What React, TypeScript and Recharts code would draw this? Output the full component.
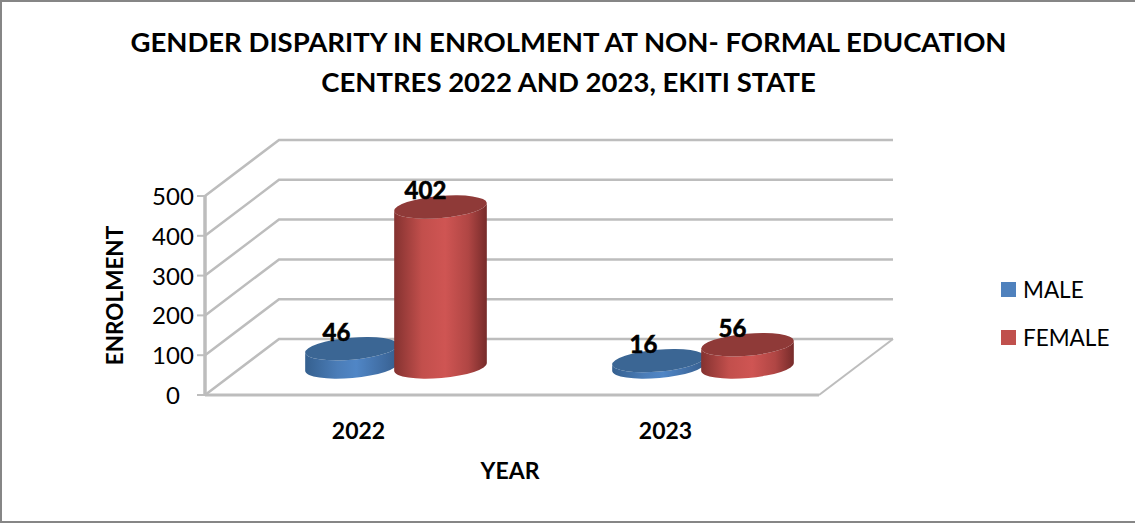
import React from 'react';
import { BarChart, Bar, XAxis, YAxis, CartesianGrid, Legend, LabelList } from 'recharts';

// values
const years = ['2022', '2023'];
const male = [46, 16];
const female = [402, 56];
const yTicks = [0, 100, 200, 300, 400, 500];
const titleLines = [
  'GENDER DISPARITY IN ENROLMENT AT NON- FORMAL EDUCATION',
  'CENTRES 2022 AND 2023, EKITI STATE',
];

const data = years.map((year, i) => ({ year, male: male[i], female: female[i] }));

const FONT = 'Lato, Carlito, sans-serif';
const GRID = '#bdbdbd';
// fake 3d: how far the back wall sits from the front plane
const DEPTH_X = 74;
const DEPTH_Y = -56;
const TILT = 5;
const RY = 11;
const PLOT_HEIGHT = 199;

const Cylinder = (props: any) => {
  const { x, y, width, height, gradId, topFill } = props;
  // bars stand half way into the floor
  const cx = x + width / 2 + DEPTH_X / 2;
  const top = y + DEPTH_Y / 2;
  const bottom = y + height + DEPTH_Y / 2;
  const rx = width / 2;
  const t = (TILT * Math.PI) / 180;
  const ex = rx * Math.cos(t);
  const ey = rx * Math.sin(t);
  const body = `M${cx - ex},${top + ey} L${cx - ex},${bottom + ey} A${rx},${RY} ${-TILT} 0 0 ${cx + ex},${bottom - ey} L${cx + ex},${top - ey} A${rx},${RY} ${-TILT} 0 1 ${cx - ex},${top + ey} Z`;
  return (
    <g>
      <path d={body} fill={`url(#${gradId})`} />
      <ellipse cx={cx} cy={top} rx={rx} ry={RY} fill={topFill} transform={`rotate(${-TILT} ${cx} ${top})`} />
    </g>
  );
};

const gridLine = (props: any) => {
  const { x1, x2, y1, key, index } = props;
  const isFloor = y1 > 390;
  return (
    <g key={key ?? index}>
      <polyline
        points={`${x1},${y1} ${x1 + DEPTH_X},${y1 + DEPTH_Y} ${x2 + DEPTH_X},${y1 + DEPTH_Y}`}
        fill="none"
        stroke={GRID}
        strokeWidth={2.5}
      />
      {isFloor && (
        <line x1={x2} y1={y1} x2={x2 + DEPTH_X} y2={y1 + DEPTH_Y} stroke={GRID} strokeWidth={2} />
      )}
      {isFloor && <line x1={x1} y1={y1} x2={x1} y2={y1 - PLOT_HEIGHT} stroke={GRID} strokeWidth={3} />}
    </g>
  );
};

const barLabel = (props: any) => {
  const { x, y, width, value } = props;
  return (
    <text
      x={x + width / 2 + DEPTH_X / 2 - 15}
      y={y + DEPTH_Y / 2 - 8}
      textAnchor="middle"
      fontFamily={FONT}
      fontSize={24}
      fill="#000"
      stroke="#000"
      strokeWidth={0.6}
      style={{ fontWeight: 700 }}
    >
      {value}
    </text>
  );
};

const yTick = (props: any) => {
  const { x, y, payload } = props;
  return (
    <text x={x - 22} y={y + 9} textAnchor="middle" fontFamily={FONT} fontSize={24} fill="#000">
      {payload.value}
    </text>
  );
};

const legendContent = (props: any) => (
  <div style={{ fontFamily: FONT, fontSize: 22.5, color: '#000' }}>
    {props.payload.map((item: any) => (
      <div key={item.value} style={{ display: 'flex', alignItems: 'center', height: 48 }}>
        <span style={{ width: 15, height: 15, background: item.color, marginRight: 7 }} />
        {item.value}
      </div>
    ))}
  </div>
);

export default function App() {
  return (
    <div
      style={{
        position: 'absolute',
        left: 0,
        top: 0,
        width: 1135,
        height: 523,
        boxSizing: 'border-box',
        background: '#fff',
        borderTop: '2px solid #868686',
        borderLeft: '2px solid #868686',
        borderBottom: '2px solid #868686',
      }}
    >
      <div
        style={{
          position: 'absolute',
          left: -2,
          top: 20,
          width: 1135,
          textAlign: 'center',
          fontFamily: FONT,
          fontWeight: 700,
          fontSize: 27.5,
          lineHeight: '40px',
          color: '#000',
        }}
      >
        {titleLines.map((line) => (
          <div key={line} style={{ position: 'relative', left: 1 }}>{line}</div>
        ))}
      </div>
      <div style={{ position: 'absolute', left: -2, top: -2 }}>
        <BarChart
          width={1135}
          height={523}
          data={data}
          barSize={93}
          barGap={-4}
          margin={{ left: 145, right: 316, top: 196, bottom: 98 }}
        >
          <defs>
            <linearGradient id="maleGrad" x1="0" y1="0" x2="1" y2="0">
              <stop offset="0" stopColor="#35608f" />
              <stop offset="0.35" stopColor="#4b7db8" />
              <stop offset="0.55" stopColor="#5086c6" />
              <stop offset="1" stopColor="#375f8f" />
            </linearGradient>
            <linearGradient id="femaleGrad" x1="0" y1="0" x2="1" y2="0">
              <stop offset="0" stopColor="#843230" />
              <stop offset="0.3" stopColor="#c24f4c" />
              <stop offset="0.55" stopColor="#cf5553" />
              <stop offset="0.8" stopColor="#b04644" />
              <stop offset="1" stopColor="#762b2a" />
            </linearGradient>
          </defs>
          <CartesianGrid horizontal={gridLine} vertical={false} />
          <XAxis
            dataKey="year"
            height={30}
            axisLine={{ stroke: GRID, strokeWidth: 3 }}
            tickLine={false}
            tickMargin={22}
            tick={{ fontFamily: FONT, fontWeight: 700, fontSize: 23, fill: '#000' }}
            label={{
              value: 'YEAR',
              position: 'bottom',
              offset: 38,
              dx: -2,
              fontFamily: FONT,
              fontWeight: 700,
              fontSize: 23,
              fill: '#000',
            }}
          />
          <YAxis
            width={60}
            domain={[0, 500]}
            ticks={yTicks}
            stroke={GRID}
            axisLine={{ stroke: GRID, strokeWidth: 3 }}
            tickLine={{ stroke: GRID, strokeWidth: 2 }}
            tickSize={8}
            tick={yTick}
            label={{
              value: 'ENROLMENT',
              angle: -90,
              position: 'left',
              offset: 30,
              textAnchor: 'middle',
              fontFamily: FONT,
              fontWeight: 700,
              fontSize: 22.5,
              fill: '#000',
            }}
          />
          <Legend
            layout="vertical"
            align="center"
            verticalAlign="middle"
            itemSorter={null}
            content={legendContent}
            wrapperStyle={{ left: 1001, top: 265, width: 130, height: 96, bottom: 'auto', right: 'auto' }}
          />
          <Bar
            dataKey="male"
            name="MALE"
            fill="#4f81bd"
            isAnimationActive={false}
            shape={(p: any) => <Cylinder {...p} gradId="maleGrad" topFill="#3b6694" />}
          >
            <LabelList dataKey="male" content={barLabel} />
          </Bar>
          <Bar
            dataKey="female"
            name="FEMALE"
            fill="#c0504d"
            isAnimationActive={false}
            shape={(p: any) => <Cylinder {...p} gradId="femaleGrad" topFill="#8f3a38" />}
          >
            <LabelList dataKey="female" content={barLabel} />
          </Bar>
        </BarChart>
      </div>
    </div>
  );
}
